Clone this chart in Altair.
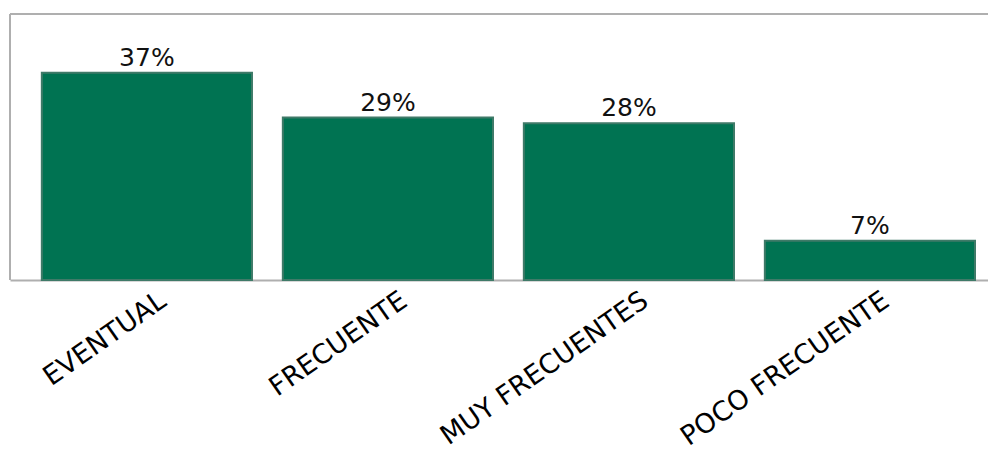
import altair as alt
import pandas as pd

categories = ["EVENTUAL", "FRECUENTE", "MUY FRECUENTES", "POCO FRECUENTE"]
values = [37, 29, 28, 7]
labels = ["37%", "29%", "28%", "7%"]

df = pd.DataFrame({"cat": categories, "val": values, "label": labels})

W, H = 978, 266
GREY = "#AFAFAF"

x = alt.X(
    "cat:N", sort=categories, title=None,
    scale=alt.Scale(paddingInner=0.128, paddingOuter=0.093, align=0.71),
    axis=alt.Axis(labelAngle=-35, labelFont="DejaVu Sans", labelFontSize=27,
                  labelColor="#000000", labelAlign="right", labelBaseline="top",
                  labelPadding=7, labelOffset=9, ticks=False, domain=True,
                  domainColor=GREY, domainWidth=2, labelLimit=0, labelOverlap=False),
)
y = alt.Y("val:Q", scale=alt.Scale(domain=[0, 47.5], nice=False, zero=True), axis=None)

base = alt.Chart(df)
bars = base.mark_bar(color="#007352", stroke="#3F7A68", strokeWidth=2).encode(x=x, y=y)
text = base.mark_text(baseline="bottom", dy=-2, font="DejaVu Sans", fontSize=25,
                      color="#111111").encode(x=x, y=y, text="label:N")

fdf = pd.DataFrame({"a": [0]})
frame_top = alt.Chart(fdf).mark_rule(color=GREY, strokeWidth=2).encode(
    x=alt.value(0), x2=alt.value(W + 10), y=alt.value(0))
frame_left = alt.Chart(fdf).mark_rule(color=GREY, strokeWidth=2).encode(
    x=alt.value(0), y=alt.value(0), y2=alt.value(H))

chart = alt.layer(bars, text, frame_top, frame_left).properties(
    width=W, height=H,
    autosize=alt.AutoSizeParams(type="none"),
    padding={"left": 2, "top": 6, "right": 0, "bottom": 176},
).configure_view(stroke=None)

chart.save("out.html", embed_options={"renderer": "svg", "actions": False})
